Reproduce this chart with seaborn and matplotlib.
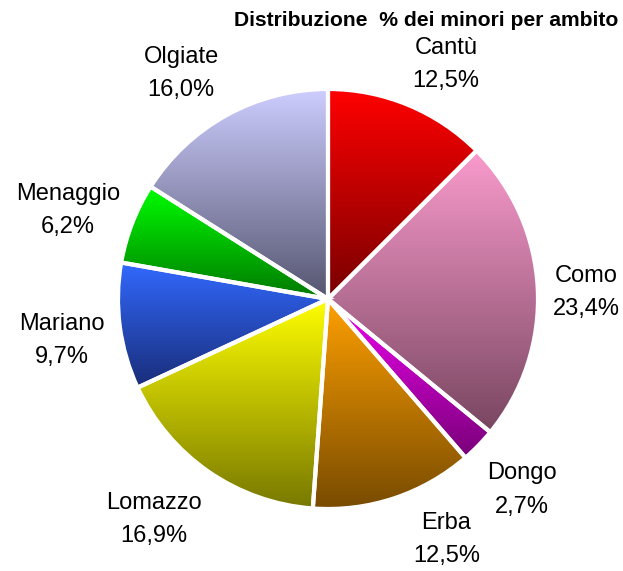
import numpy as np
import matplotlib
matplotlib.use("Agg")
import matplotlib.pyplot as plt
import seaborn as sns
from matplotlib.colors import to_rgb

categories = ["Cantù", "Como", "Dongo", "Erba", "Lomazzo", "Mariano", "Menaggio", "Olgiate"]
values = [12.5, 23.4, 2.7, 12.5, 16.9, 9.7, 6.2, 16.0]
value_labels = ["12,5%", "23,4%", "2,7%", "12,5%", "16,9%", "9,7%", "6,2%", "16,0%"]
top_colors = ["#ff0000", "#fa9bcd", "#f000f0", "#ffa000", "#ffff00", "#3269ff", "#00ff00", "#cdcdff"]
bottom_colors = ["#780000", "#784660", "#780078", "#784b00", "#787800", "#192d78", "#007800", "#555570"]
title = "Distribuzione  % dei minori per ambito"

sns.set_theme(style="white")
plt.rcParams["font.family"] = ["Liberation Sans", "DejaVu Sans"]

W, H, DPI = 623, 571, 100
fig = plt.figure(figsize=(W / DPI, H / DPI), dpi=DPI)
ax = fig.add_axes([0, 0, 1, 1])
R = 210.0
cx, cy = 328.0, 299.0
ax.axis("off")

wedges, _ = ax.pie(values, startangle=90, counterclock=False, radius=1.0,
                   wedgeprops=dict(facecolor="none", edgecolor="white", linewidth=3, zorder=3))

for w, tc, bc in zip(wedges, top_colors, bottom_colors):
    ext = w.get_path().get_extents()
    t = np.array(to_rgb(tc))
    b = np.array(to_rgb(bc))
    f = np.linspace(0, 1, 256)[:, None]
    grad = (t[None, :] * (1 - f) + b[None, :] * f)[:, None, :]
    im = ax.imshow(grad, extent=[ext.x0, ext.x1, ext.y0, ext.y1], origin="upper",
                   aspect="auto", interpolation="bilinear", zorder=2)
    im.set_clip_path(w)

ax.set_aspect("auto")
ax.set_xlim(-cx / R, (W - cx) / R)
ax.set_ylim(-(H - cy) / R, cy / R)

# label positions relative to wedge mid-angles
dist = [1.26, 1.23, 1.29, 1.27, 1.33, 1.28, 1.31, 1.29]
adj = [-4, -1, 0, 8, -4, 1, 2, 4]
cum = np.cumsum([0] + values[:-1])
total = sum(values)
for i, (c, v) in enumerate(zip(categories, value_labels)):
    mid = 90 - 360 * (cum[i] + values[i] / 2) / total + adj[i]
    x = dist[i] * np.cos(np.radians(mid))
    y = dist[i] * np.sin(np.radians(mid)) - 2.0 / R
    ax.text(x, y, f"{c}\n{v}", ha="center", va="center", fontsize=17,
            linespacing=1.65, color="black", zorder=5)

fig.text(426 / W, 1 - 20 / H, title, ha="center", va="center", fontsize=15.2,
         fontweight="bold", color="black")

fig.savefig("out.png", dpi=DPI, facecolor="white")
